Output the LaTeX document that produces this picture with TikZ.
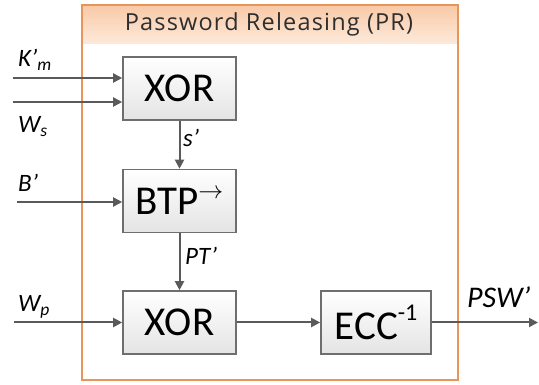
\documentclass[tikz,border=0pt]{standalone}
\usepackage{fontspec}
\setmainfont{Carlito}
\newfontfamily\titlefont[LetterSpace=5]{Open Sans}
\usetikzlibrary{arrows.meta}

\definecolor{frameor}{HTML}{E8955A}
\definecolor{hdtop}{HTML}{F8C9A6}
\definecolor{hdbot}{HTML}{FDEADB}
\definecolor{boxline}{HTML}{6E6E6E}
\definecolor{boxfill}{HTML}{E4E4E4}
\definecolor{wire}{HTML}{5A5A5A}

\newcommand{\supmark}[1]{\raisebox{19pt}{\fontsize{24}{24}\selectfont #1}}

\tikzset{
  blockbox/.style={draw=boxline, line width=1.6pt, top color=white, bottom color=boxfill,
    minimum width=113pt, minimum height=63pt, inner sep=0pt,
    font=\fontsize{41}{45}\selectfont},
  flow/.style={draw=wire, line width=2pt, -{Triangle[length=9pt,width=9pt]}},
  lbl/.style={inner sep=0pt, anchor=base west, font=\fontsize{25}{29}\selectfont\itshape},
}

\begin{document}
\begin{tikzpicture}[x=1pt,y=-1pt]
\useasboundingbox (0,0) rectangle (539,385);

% Password Releasing frame with shaded header
\fill[top color=hdtop, bottom color=hdbot] (82,5) rectangle (458,44);
\draw[frameor, line width=1.6pt] (82,5) rectangle (458,380);
\node[inner sep=0pt, font=\titlefont\fontsize{23.5}{27}\selectfont, text=black!82] (title) at (269,24)
  {Password Releasing (PR)};

% processing blocks
\node[blockbox] (xorA) at (179.5,88.5) {XOR};
\node[blockbox] (btp)  at (179.5,201)  {BTP\raisebox{16pt}{\fontsize{24}{24}\selectfont$\rightarrow$}};
\node[blockbox] (xorB) at (179.5,322.5) {XOR};
\node[blockbox, minimum width=110pt] (ecc) at (376,322.5) {ECC\supmark{-1}};

% free ends of the inputs and the output
\coordinate (kin) at (13,78);
\coordinate (win) at (13,102);
\coordinate (bin) at (17,202);
\coordinate (pin) at (14,322.5);
\coordinate (pout) at (538,322.5);

% connectors
\draw[flow] (kin) -- (kin -| xorA.west);
\draw[flow] (win) -- (win -| xorA.west);
\draw[flow] (bin) -- (bin -| btp.west);
\draw[flow] (pin) -- (xorB.west);
\draw[flow] (xorA.south) -- (btp.north);
\draw[flow] (btp.south) -- (xorB.north);
\draw[flow] (xorB.east) -- (ecc.west);
\draw[flow] (ecc.east) -- (pout);

% signal labels
\node[lbl] (lk) at (18,67)  {K’\textsubscript{m}};
\node[lbl] (lw) at (18,133) {W\textsubscript{s}};
\node[lbl] (lb) at (18,192) {B’};
\node[lbl] (lp) at (18,312) {W\textsubscript{p}};
\node[lbl] (ls) at (183,147) {s’};
\node[lbl] (lt) at (185,265) {PT’};
\node[lbl, font=\fontsize{30}{34}\selectfont\itshape] (lo) at (467,308) {PSW’};
\end{tikzpicture}
\end{document}
